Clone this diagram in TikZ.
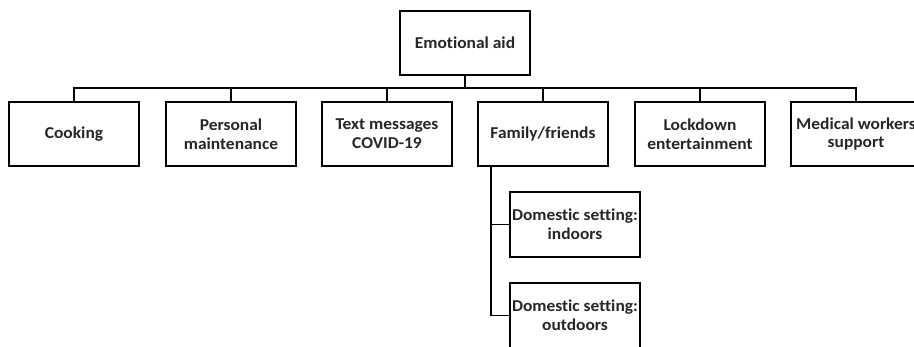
\documentclass[tikz,border=0pt]{standalone}
\usepackage{fontspec}
\setmainfont{Carlito}[Ligatures=NoCommon,FakeStretch=1.05]
\usetikzlibrary{calc}
\begin{document}
\begin{tikzpicture}[x=1pt,y=-1pt,
  box/.style={draw=black,line width=1.8pt,minimum width=130pt,minimum height=64pt,inner sep=0pt,align=center,
    font=\fontsize{16.6}{18.8}\selectfont\bfseries,text=black!85},
  link/.style={draw=black,line width=1.8pt}]
\useasboundingbox (0,0) rectangle (914,346);
\fill[white] (0,0) rectangle (914,346);
\begin{scope}
\clip (0,0) rectangle (914,346);
\node[box] (top) at (465,43) {Emotional aid};
\node[box] (c1) at (74,134) {Cooking};
\node[box] (c2) at (231,134) {Personal\\maintenance};
\node[box] (c3) at (387,134) {Text messages\\COVID-19};
\node[box] (c4) at (543,134) {Family/friends};
\node[box] (c5) at (700,134) {Lockdown\\entertainment};
\node[box] (c6) at (856,134) {Medical workers\\support};
\node[box,minimum height=65pt] (s1) at (575,224.5) {Domestic setting:\\indoors};
\node[box,minimum height=65pt] (s2) at (575,315.5) {Domestic setting:\\outdoors};
\coordinate (bus) at (465,88);
\draw[link] (top.south) -- (top.south |- bus);
\draw[link] (c1.north) |- (bus) -| (c6.north);
\foreach \n in {c2,c3,c4,c5} \draw[link] (\n.north) -- (\n.north |- bus);
\coordinate (trunk) at ($(c4.south west)+(14,0)$);
\draw[link] (trunk) |- (s2.west);
\draw[link] (trunk |- s1.west) -- (s1.west);
\end{scope}
\end{tikzpicture}
\end{document}
